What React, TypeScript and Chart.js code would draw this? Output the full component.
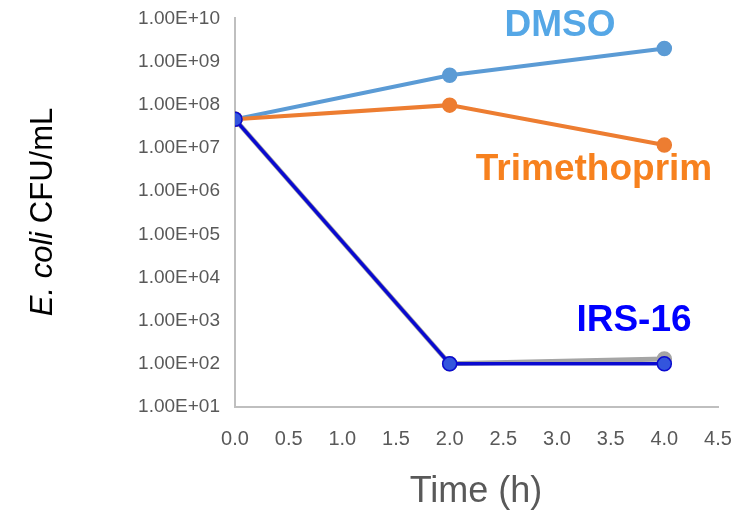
import React, { useEffect, useRef } from "react";
import { Chart, registerables } from "chart.js";

Chart.register(...registerables);

const times = [0, 2, 4];
const dmso = [4.6e7, 4.8e8, 2.0e9];
const trimethoprim = [4.6e7, 9.8e7, 1.17e7];
const irs16 = [4.6e7, 1.0e2, 1.0e2];
const grayRep = [4.6e7, 1.0e2, 1.3e2];
const yTicks = [1e1, 1e2, 1e3, 1e4, 1e5, 1e6, 1e7, 1e8, 1e9, 1e10];
const xTicks = [0, 0.5, 1, 1.5, 2, 2.5, 3, 3.5, 4, 4.5];

const FONT = "'Liberation Sans', Arial, sans-serif";

function fmtExp(v: number): string {
  const e = Math.round(Math.log10(v));
  const m = v / Math.pow(10, e);
  return m.toFixed(2) + "E+" + String(e).padStart(2, "0");
}

const labelsPlugin = {
  id: "labelsPlugin",
  afterDraw(chart: any) {
    const ctx = chart.ctx;
    ctx.save();
    ctx.textAlign = "center";
    ctx.textBaseline = "alphabetic";
    ctx.font = `bold 37px ${FONT}`;
    ctx.fillStyle = "#55A7E6";
    ctx.fillText("DMSO", 560, 36);
    ctx.fillStyle = "#F7811E";
    ctx.fillText("Trimethoprim", 594, 180);
    ctx.fillStyle = "#0000FF";
    ctx.fillText("IRS-16", 634, 331);
    ctx.font = `36px ${FONT}`;
    ctx.fillStyle = "#595959";
    ctx.fillText("Time (h)", 476, 502);
    ctx.translate(52, 212);
    ctx.rotate(-Math.PI / 2);
    ctx.fillStyle = "#000000";
    const p1 = "E. coli";
    const p2 = " CFU/mL";
    ctx.font = `italic 31px ${FONT}`;
    const w1 = ctx.measureText(p1).width;
    ctx.font = `31px ${FONT}`;
    const w2 = ctx.measureText(p2).width;
    const start = -(w1 + w2) / 2;
    ctx.textAlign = "left";
    ctx.font = `italic 31px ${FONT}`;
    ctx.fillText(p1, start, 0);
    ctx.font = `31px ${FONT}`;
    ctx.fillText(p2, start + w1, 0);
    ctx.restore();
  },
};

export default function App() {
  const ref = useRef<HTMLCanvasElement | null>(null);
  useEffect(() => {
    if (!ref.current) return;
    const mk = (label: string, data: number[], color: string, fill: string, bw: number, order: number, r = 7) => ({
      label,
      data: times.map((t, i) => ({ x: t, y: data[i] })),
      borderColor: color,
      backgroundColor: fill,
      pointBackgroundColor: fill,
      pointBorderColor: color,
      pointBorderWidth: 1.5,
      pointRadius: r,
      borderWidth: bw,
      order,
    });
    const chart = new Chart(ref.current, {
      type: "line",
      data: {
        datasets: [
          mk("Gray", grayRep, "#A5A5A5", "#A5A5A5", 5, 4, 7),
          mk("DMSO", dmso, "#5B9BD5", "#5B9BD5", 4, 3),
          mk("Trimethoprim", trimethoprim, "#ED7D31", "#ED7D31", 4, 2),
          mk("IRS-16", irs16, "#0A0AD0", "#3355DD", 3.5, 1),
        ],
      },
      options: {
        animation: false,
        responsive: false,
        maintainAspectRatio: false,
        layout: { padding: { top: 6, right: 38, left: 0, bottom: 0 } },
        plugins: { legend: { display: false }, tooltip: { enabled: false } },
        scales: {
          x: {
            type: "linear",
            min: 0,
            max: 4.5,
            afterBuildTicks: (s: any) => {
              s.ticks = xTicks.map((v) => ({ value: v }));
            },
            afterFit: (s: any) => {
              s.height = 106;
            },
            grid: { display: false },
            border: { display: true, color: "#BFBFBF", width: 2 },
            ticks: {
              color: "#595959",
              font: { family: FONT, size: 20 },
              padding: 12,
              maxRotation: 0,
              callback: (v: any) => Number(v).toFixed(1),
            },
          },
          y: {
            type: "logarithmic",
            min: 1e1,
            max: 1e10,
            afterBuildTicks: (s: any) => {
              s.ticks = yTicks.map((v) => ({ value: v }));
            },
            afterFit: (s: any) => {
              s.width = 235;
            },
            grid: { display: false },
            border: { display: true, color: "#BFBFBF", width: 2 },
            ticks: {
              color: "#595959",
              font: { family: FONT, size: 19 },
              padding: 7,
              callback: (v: any) => fmtExp(Number(v)),
            },
          },
        },
      },
      plugins: [labelsPlugin],
    } as any);
    return () => chart.destroy();
  }, []);
  return (
    <div style={{ position: "fixed", left: 0, top: 0, width: 756, height: 513, background: "#fff" }}>
      <canvas ref={ref} width={756} height={513} style={{ width: 756, height: 513 }} />
    </div>
  );
}
